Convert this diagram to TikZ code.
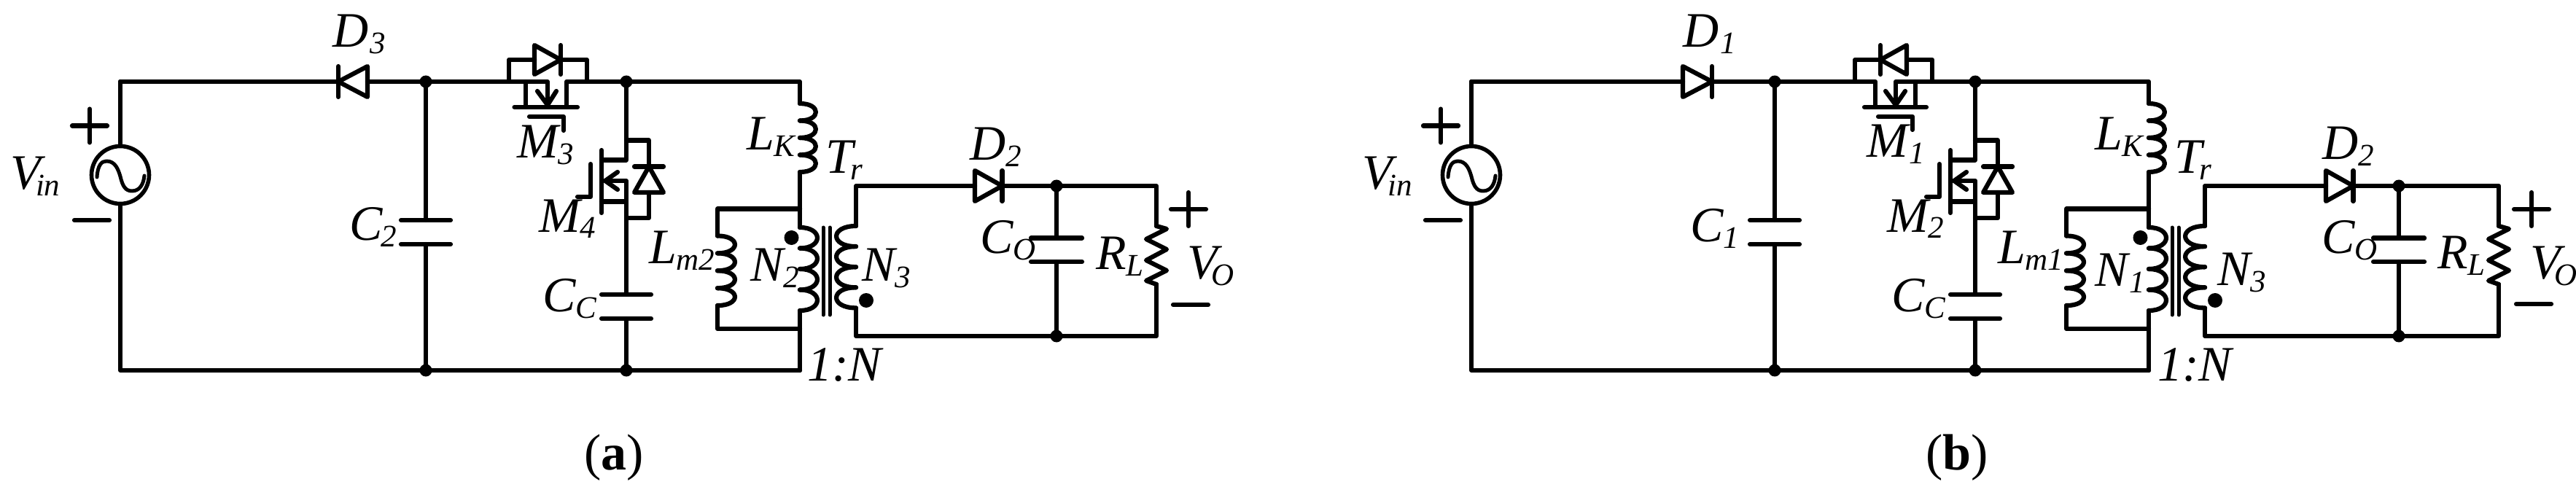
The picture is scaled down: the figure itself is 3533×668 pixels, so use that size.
\documentclass[tikz,border=0pt]{standalone}
\usepackage{fontspec}
\setmainfont{Liberation Serif}
\tikzset{
  wire/.style={line width=6.2pt,line cap=round,line join=round},
  thinwire/.style={line width=5pt,line cap=round,line join=round},
  junct/.style={circle,fill=black,inner sep=0pt,minimum size=17pt},
  polar/.style={circle,fill=black,inner sep=0pt,minimum size=20pt},
  acsrc/.style={circle,draw=black,line width=5.6pt,inner sep=0pt,minimum size=79pt},
  lbl/.style={anchor=base west,inner sep=0pt,outer sep=0pt},
}
\newcommand\mf{\fontsize{68}{72}\selectfont\itshape}
\newcommand\sbf{\fontsize{43}{46}\selectfont\itshape}
% name, x, baseline y, main, sub, kern
\newcommand\lab[6]{\node[lbl] (#1) at (#2,#3) {\mf #4\kern#6pt\raisebox{-9pt}{\sbf #5}};}
% coil: x, y start, count, pitch, bulge
\newcommand\coil[5]{\foreach \i in {1,...,#3}{%
  \pgfmathsetmacro\ya{#2+(\i-1)*#4}%
  \pgfmathsetmacro\yb{#2+\i*#4}%
  \pgfmathsetmacro\xc{#1+1.33*(#5)}%
  \draw[wire] (#1,\ya) .. controls (\xc,\ya) and (\xc,\yb) .. (#1,\yb);}}
% horizontal diode: x base, x tip, y, half height
\newcommand\diodeH[4]{\draw[wire] (#1,#3-#4) -- (#1,#3+#4) -- (#2,#3) -- cycle;
  \draw[wire] (#2,#3-#4) -- (#2,#3+#4);}
% plus / minus: x, y
\newcommand\plusm[2]{\draw[wire] (#1-24,#2) -- (#1+24,#2); \draw[wire] (#1,#2-23) -- (#1,#2+23);}
\newcommand\minusm[2]{\draw[wire] (#1-24,#2) -- (#1+24,#2);}
% capacitor: x, y top plate, y bottom plate, half width
\newcommand\plates[4]{\draw[wire] (#1-#4,#2) -- (#1+#4,#2); \draw[wire] (#1-#4,#3) -- (#1+#4,#3);}
% panel: #1 source x, #2 output shift, #3 output diode shift, #4 input cap x
\newcommand\panel[3]{%
  \coordinate (tl) at (#1,112);
  \coordinate (bl) at (#1,508);
  \node[acsrc] (src) at (#1,240) {};
  \draw[thinwire] (#1-32,243) .. controls (#1-31,227) and (#1-26,221) .. (#1-19,221)
     .. controls (#1-7,221) and (#1-3,232) .. (#1,242)
     .. controls (#1+3,255) and (#1+7,262) .. (#1+16,262)
     .. controls (#1+27,262) and (#1+32,252) .. (#1+33,241);
  \node[junct] (j1) at (584,112) {};
  \node[junct] (j2) at (859,112) {};
  \node[junct] (j3) at (584,508) {};
  \node[junct] (j4) at (859,508) {};
  \coordinate (br) at (1097,508);
  \coordinate (c1t) at (584,302); \coordinate (c1b) at (584,335);
  \plates{584}{302}{335}{34}
  \draw[wire] (j1) -- (c1t); \draw[wire] (c1b) -- (j3);
  \draw[wire] (src.north) -- (tl);
  \draw[wire] (src.south) -- (bl) -- (j3) -- (j4) -- (br);
  % lower switch
  \coordinate (m-d) at (859,219.5);
  \coordinate (m-s) at (859,248);
  \coordinate (m-b) at (859,276.5);
  \coordinate (cct) at (859,404); \coordinate (ccb) at (859,437);
  \draw[wire] (j2) -- (m-d) -- (825,219.5);
  \draw[wire] (825,206) -- (825,292);
  \draw[wire] (810,225) -- (810,270) -- (792,270);
  \draw[wire] (830,248) -- (m-s) -- (m-b) -- (825,276.5);
  \draw[wire] (847,236) -- (830,248) -- (847,260);
  \draw[wire] (m-b) -- (cct);
  \plates{859}{404}{437}{34}
  \draw[wire] (ccb) -- (j4);
  \draw[wire] (859,192.5) -- (890,192.5) -- (890,228.5);
  \draw[wire] (890,264) -- (890,299) -- (859,299);
  \draw[wire] (870,228.5) -- (910,228.5);
  \draw[wire] (890,228.5) -- (870,264) -- (910,264) -- cycle;
  % primary side
  \coordinate (lk-t) at (1097,142); \coordinate (lk-b) at (1097,236);
  \coordinate (p-t) at (1097,312); \coordinate (p-b) at (1097,426);
  \coordinate (lm-jt) at (1097,286.5); \coordinate (lm-jb) at (1097,451);
  \coordinate (lm-t) at (984,323.5); \coordinate (lm-b) at (984,419);
  \coordinate (tr) at (1097,112);
  \draw[wire] (j2) -- (tr) -- (lk-t);
  \coil{1097}{142}{4}{23.5}{22}
  \draw[wire] (lk-b) -- (p-t);
  \coil{1097}{312}{4}{28.5}{24}
  \draw[wire] (p-b) -- (br);
  \draw[wire] (lm-jt) -- (984,286.5) -- (lm-t);
  \coil{984}{323.5}{4}{23.9}{24}
  \draw[wire] (lm-b) -- (984,451) -- (lm-jb);
  % core
  \draw[thinwire] (1129,312) -- (1129,432);
  \draw[thinwire] (1138,312) -- (1138,432);
  % secondary
  \coordinate (s-t) at (1174,310); \coordinate (s-b) at (1174,422.5);
  \coordinate (s-tc) at (1174,255); \coordinate (s-bc) at (1174,461);
  \coil{1174}{310}{4}{28.1}{-27}
  \node[polar] (dot1) at (1085.5,326) {};
  \node[polar] (dot2) at (1188,412) {};
  % output side
  \coordinate (d2b) at (1337+#3,255); \coordinate (d2t) at (1374.5+#3,255);
  \node[junct] (j5) at (1449+#2,255) {};
  \node[junct] (j6) at (1449+#2,461) {};
  \coordinate (otr) at (1586+#2,255); \coordinate (obr) at (1586+#2,461);
  \coordinate (rt) at (1586+#2,310); \coordinate (rb) at (1586+#2,390);
  \coordinate (cot) at (1449+#2,326.5); \coordinate (cob) at (1449+#2,359);
  \draw[wire] (s-t) -- (s-tc) -- (d2b);
  \diodeH{1337+#3}{1374.5+#3}{255}{21}
  \draw[wire] (d2t) -- (j5) -- (otr) -- (rt);
  \draw[wire] (j5) -- (cot);
  \plates{1449+#2}{326.5}{359}{35}
  \draw[wire] (cob) -- (j6);
  \draw[wire] (s-b) -- (s-bc) -- (j6) -- (obr) -- (rb);
  \draw[wire] (rt) -- (1600+#2,314) -- (1572+#2,328) -- (1600+#2,342) -- (1572+#2,357) -- (1600+#2,371) -- (1572+#2,385) -- (rb);
}
\begin{document}
\begin{tikzpicture}[x=1pt,y=-1pt]
\path[use as bounding box,fill=white] (0,0) rectangle (3533,668);
% ---- panel a
\begin{scope}[name prefix=a-]
  \panel{165}{0}{0}
  \coordinate (d-k) at (464,112); \coordinate (d-a) at (504,112);
  \draw[wire] (tl) -- (d-k);
  \diodeH{504}{464}{112}{21}
  \draw[wire] (d-a) -- (j1);
  \coordinate (sw-l) at (751,112); \coordinate (sw-r) at (777,112);
  \draw[wire] (j1) -- (sw-l) -- (751,144);
  \draw[wire] (737,125) -- (751,144) -- (763,125);
  \draw[wire] (721,112) -- (721,147);
  \draw[wire] (777,147) -- (sw-r) -- (j2);
  \draw[wire] (705.5,147) -- (792,147);
  \draw[wire] (726,160) -- (773,160) -- (773,179);
  \draw[wire] (698,112) -- (698,82) -- (733,82);
  \draw[wire] (769,82) -- (805,82) -- (805,112);
  \diodeH{733}{769}{82}{20}
\end{scope}
\plusm{123}{172.5} \minusm{126}{302}
\plusm{1630}{287} \minusm{1633}{418}
\lab{a-Vin}{14}{260}{V}{in}{-6.5}
\lab{a-D3}{456}{65}{D}{3}{2}
\lab{a-C2}{479}{330}{C}{2}{-2}
\lab{a-M3}{709}{217}{M}{3}{0}
\lab{a-M4}{739}{318}{M}{4}{0}
\lab{a-CC}{744}{427}{C}{C}{0}
\lab{a-Lm}{890}{361}{L}{m2}{0}
\lab{a-LK}{1024}{206}{L}{K}{0}
\lab{a-Tr}{1132}{238}{T}{r}{-3}
\lab{a-N2}{1029}{385}{N}{2}{0}
\lab{a-N3}{1182}{385}{N}{3}{0}
\lab{a-D2}{1330}{220}{D}{2}{0}
\lab{a-CO}{1344}{347}{C}{O}{0}
\lab{a-RL}{1503}{369}{R}{L}{0}
\lab{a-VO}{1628}{382}{V}{O}{-8}
\node[lbl] (a-ratio) at (1107,522) {\mf 1:N};
\node[lbl] (a-cap) at (801,644) {\fontsize{70}{74}\selectfont(\textbf{a})};
% ---- panel b
\begin{scope}[shift={(1850pt,0pt)},name prefix=b-]
  \panel{168}{-9}{3}
  \coordinate (d-a) at (458,112); \coordinate (d-k) at (498,112);
  \draw[wire] (tl) -- (d-a);
  \diodeH{458}{498}{112}{21}
  \draw[wire] (d-k) -- (j1);
  \coordinate (sw-l) at (722,112); \coordinate (sw-r) at (750,112);
  \draw[wire] (j1) -- (sw-l) -- (722,147);
  \draw[wire] (750,144) -- (sw-r) -- (j2);
  \draw[wire] (736,125) -- (750,144) -- (763,125);
  \draw[wire] (777,112) -- (777,147);
  \draw[wire] (707,147) -- (792,147);
  \draw[wire] (726,160) -- (773,160) -- (773,178);
  \draw[wire] (694,112) -- (694,82) -- (729,82);
  \draw[wire] (765,82) -- (800,82) -- (800,112);
  \diodeH{765}{729}{82}{20}
\end{scope}
\plusm{1976}{172.5} \minusm{1979}{302}
\plusm{3472}{287} \minusm{3475}{417}
\lab{b-Vin}{1868}{260}{V}{in}{-6.5}
\lab{b-D1}{2308}{65}{D}{1}{2}
\lab{b-C1}{2318}{331}{C}{1}{0}
\lab{b-M1}{2560}{216}{M}{1}{2}
\lab{b-M2}{2588}{318}{M}{2}{0}
\lab{b-CC}{2594}{427}{C}{C}{0}
\lab{b-Lm}{2740}{361}{L}{m1}{0}
\lab{b-LK}{2873}{206}{L}{K}{0}
\lab{b-Tr}{2982}{238}{T}{r}{-3}
\lab{b-N1}{2873}{392}{N}{1}{2}
\lab{b-N3}{3041}{391}{N}{3}{0}
\lab{b-D2}{3185}{219}{D}{2}{0}
\lab{b-CO}{3184}{347}{C}{O}{0}
\lab{b-RL}{3343}{368}{R}{L}{0}
\lab{b-VO}{3470}{382}{V}{O}{-8}
\node[lbl] (b-ratio) at (2959,522) {\mf 1:N};
\node[lbl] (b-cap) at (2641,644) {\fontsize{70}{74}\selectfont(\textbf{b})};
\end{tikzpicture}
\end{document}
